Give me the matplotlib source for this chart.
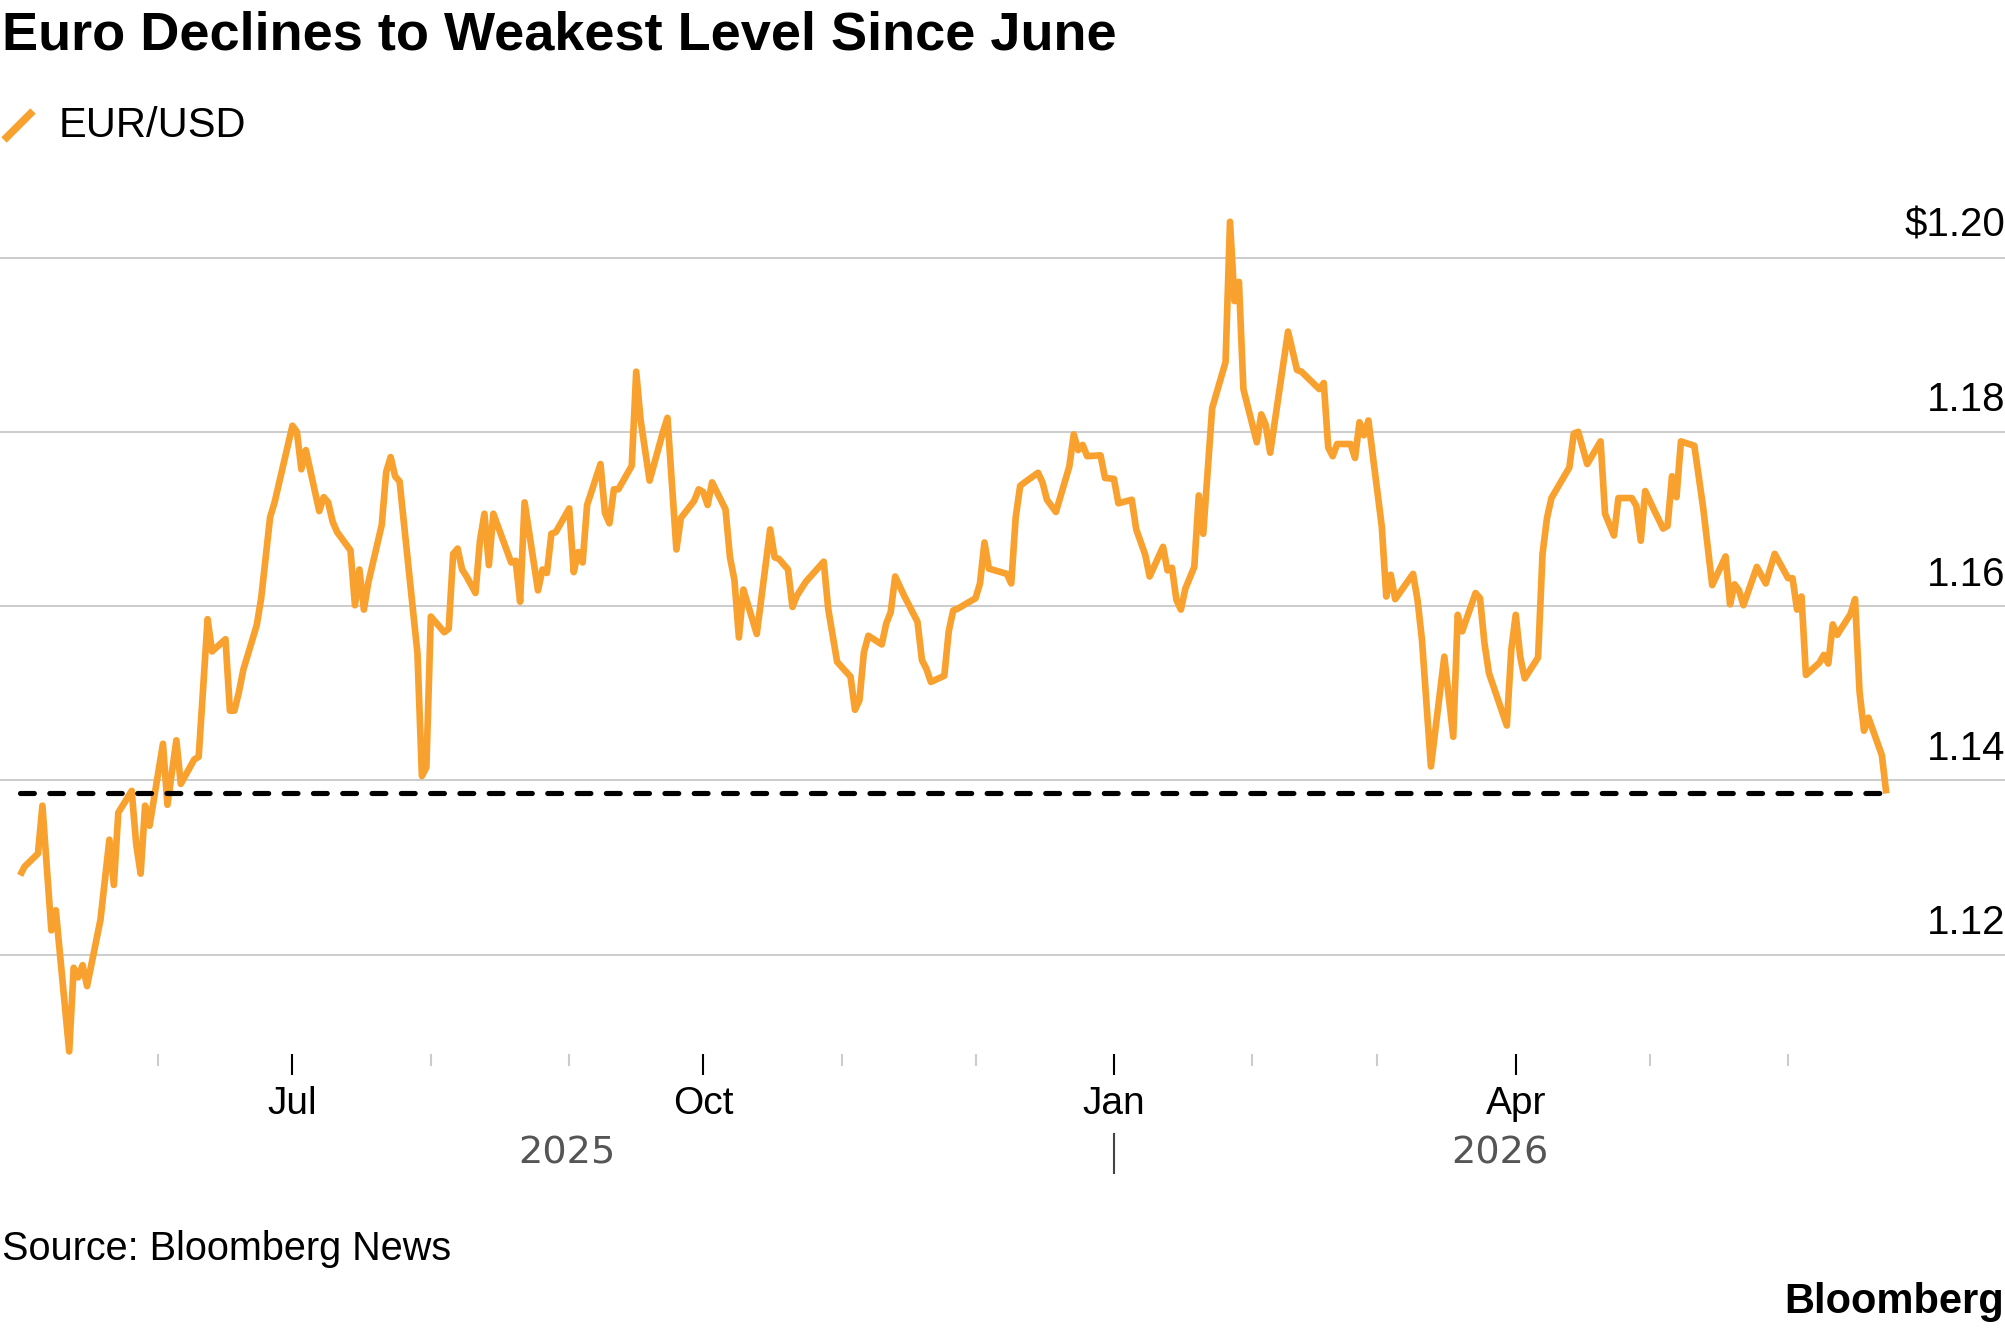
import matplotlib
matplotlib.use('Agg')
import matplotlib.pyplot as plt
import matplotlib.dates as mdates
import matplotlib.transforms as mtransforms
import pandas as pd

plt.rcParams['font.family'] = ['Liberation Sans', 'DejaVu Sans']

# EUR/USD
dates = [
    '2025-05-01', '2025-05-02', '2025-05-05', '2025-05-06', '2025-05-08', '2025-05-09', '2025-05-12',
    '2025-05-13', '2025-05-14', '2025-05-15', '2025-05-16', '2025-05-19', '2025-05-21', '2025-05-22',
    '2025-05-23', '2025-05-26', '2025-05-27', '2025-05-28', '2025-05-29', '2025-05-30', '2025-06-02',
    '2025-06-03', '2025-06-05', '2025-06-06', '2025-06-09', '2025-06-10', '2025-06-12', '2025-06-13',
    '2025-06-16', '2025-06-17', '2025-06-18', '2025-06-19', '2025-06-20', '2025-06-23', '2025-06-24',
    '2025-06-26', '2025-06-27', '2025-07-01', '2025-07-02', '2025-07-03', '2025-07-04', '2025-07-07',
    '2025-07-08', '2025-07-09', '2025-07-10', '2025-07-11', '2025-07-14', '2025-07-15', '2025-07-16',
    '2025-07-17', '2025-07-18', '2025-07-21', '2025-07-22', '2025-07-23', '2025-07-24', '2025-07-25',
    '2025-07-29', '2025-07-30', '2025-07-31', '2025-08-01', '2025-08-04', '2025-08-05', '2025-08-06',
    '2025-08-07', '2025-08-08', '2025-08-09', '2025-08-11', '2025-08-12', '2025-08-13', '2025-08-14',
    '2025-08-15', '2025-08-19', '2025-08-20', '2025-08-21', '2025-08-22', '2025-08-25', '2025-08-26',
    '2025-08-27', '2025-08-28', '2025-08-29', '2025-09-01', '2025-09-02', '2025-09-03', '2025-09-04',
    '2025-09-05', '2025-09-08', '2025-09-09', '2025-09-10', '2025-09-11', '2025-09-12', '2025-09-15',
    '2025-09-16', '2025-09-17', '2025-09-19', '2025-09-22', '2025-09-23', '2025-09-25', '2025-09-26',
    '2025-09-29', '2025-09-30', '2025-10-01', '2025-10-02', '2025-10-03', '2025-10-06', '2025-10-07',
    '2025-10-08', '2025-10-09', '2025-10-10', '2025-10-13', '2025-10-16', '2025-10-17', '2025-10-18',
    '2025-10-20', '2025-10-21', '2025-10-22', '2025-10-24', '2025-10-28', '2025-10-29', '2025-10-31',
    '2025-11-03', '2025-11-04', '2025-11-05', '2025-11-06', '2025-11-07', '2025-11-10', '2025-11-11',
    '2025-11-12', '2025-11-13', '2025-11-15', '2025-11-18', '2025-11-19', '2025-11-20', '2025-11-21',
    '2025-11-24', '2025-11-25', '2025-11-26', '2025-11-27', '2025-12-01', '2025-12-02', '2025-12-03',
    '2025-12-04', '2025-12-08', '2025-12-09', '2025-12-10', '2025-12-11', '2025-12-12', '2025-12-15',
    '2025-12-16', '2025-12-17', '2025-12-19', '2025-12-22', '2025-12-23', '2025-12-24', '2025-12-25',
    '2025-12-26', '2025-12-29', '2025-12-30', '2026-01-01', '2026-01-02', '2026-01-05', '2026-01-06',
    '2026-01-08', '2026-01-09', '2026-01-12', '2026-01-13', '2026-01-14', '2026-01-15', '2026-01-16',
    '2026-01-17', '2026-01-19', '2026-01-20', '2026-01-21', '2026-01-22', '2026-01-23', '2026-01-26',
    '2026-01-27', '2026-01-28', '2026-01-29', '2026-01-30', '2026-02-02', '2026-02-03', '2026-02-04',
    '2026-02-05', '2026-02-09', '2026-02-11', '2026-02-12', '2026-02-16', '2026-02-17', '2026-02-18',
    '2026-02-19', '2026-02-20', '2026-02-23', '2026-02-24', '2026-02-25', '2026-02-26', '2026-02-27',
    '2026-03-02', '2026-03-03', '2026-03-04', '2026-03-05', '2026-03-09', '2026-03-10', '2026-03-11',
    '2026-03-13', '2026-03-16', '2026-03-18', '2026-03-19', '2026-03-20', '2026-03-23', '2026-03-24',
    '2026-03-25', '2026-03-26', '2026-03-30', '2026-03-31', '2026-04-01', '2026-04-02', '2026-04-03',
    '2026-04-06', '2026-04-07', '2026-04-08', '2026-04-09', '2026-04-13', '2026-04-14', '2026-04-15',
    '2026-04-17', '2026-04-20', '2026-04-21', '2026-04-23', '2026-04-24', '2026-04-27', '2026-04-28',
    '2026-04-29', '2026-04-30', '2026-05-02', '2026-05-04', '2026-05-05', '2026-05-06', '2026-05-07',
    '2026-05-08', '2026-05-11', '2026-05-13', '2026-05-15', '2026-05-18', '2026-05-19', '2026-05-20',
    '2026-05-21', '2026-05-22', '2026-05-25', '2026-05-27', '2026-05-29', '2026-06-01', '2026-06-02',
    '2026-06-03', '2026-06-04', '2026-06-05', '2026-06-08', '2026-06-09', '2026-06-10', '2026-06-11',
    '2026-06-12', '2026-06-15', '2026-06-16', '2026-06-17', '2026-06-18', '2026-06-19', '2026-06-22',
    '2026-06-23',
]
eurusd = [
    1.1291, 1.1301, 1.1316, 1.1371, 1.1228, 1.1251, 1.1089,
    1.1185, 1.1174, 1.1188, 1.1164, 1.1240, 1.1332, 1.1280,
    1.1363, 1.1388, 1.1327, 1.1293, 1.1371, 1.1348, 1.1442,
    1.1372, 1.1446, 1.1396, 1.1424, 1.1427, 1.1585, 1.1548,
    1.1562, 1.1480, 1.1480, 1.1501, 1.1527, 1.1578, 1.1609,
    1.1702, 1.1719, 1.1807, 1.1800, 1.1757, 1.1779, 1.1709,
    1.1725, 1.1719, 1.1697, 1.1685, 1.1664, 1.1601, 1.1642,
    1.1596, 1.1627, 1.1693, 1.1754, 1.1771, 1.1749, 1.1743,
    1.1546, 1.1405, 1.1415, 1.1588, 1.1570, 1.1574, 1.1660,
    1.1666, 1.1642, 1.1634, 1.1615, 1.1675, 1.1706, 1.1647,
    1.1706, 1.1650, 1.1652, 1.1605, 1.1719, 1.1618, 1.1642,
    1.1638, 1.1683, 1.1685, 1.1712, 1.1639, 1.1662, 1.1650,
    1.1716, 1.1763, 1.1707, 1.1695, 1.1734, 1.1734, 1.1761,
    1.1869, 1.1813, 1.1744, 1.1800, 1.1816, 1.1665, 1.1701,
    1.1721, 1.1734, 1.1731, 1.1716, 1.1742, 1.1711, 1.1656,
    1.1630, 1.1564, 1.1619, 1.1568, 1.1688, 1.1656, 1.1654,
    1.1642, 1.1599, 1.1612, 1.1628, 1.1651, 1.1597, 1.1536,
    1.1519, 1.1481, 1.1492, 1.1547, 1.1566, 1.1556, 1.1580,
    1.1593, 1.1634, 1.1612, 1.1582, 1.1538, 1.1528, 1.1513,
    1.1520, 1.1571, 1.1595, 1.1597, 1.1609, 1.1626, 1.1673,
    1.1643, 1.1637, 1.1626, 1.1702, 1.1738, 1.1742, 1.1753,
    1.1742, 1.1722, 1.1708, 1.1760, 1.1797, 1.1779, 1.1785,
    1.1772, 1.1773, 1.1747, 1.1746, 1.1718, 1.1722, 1.1688,
    1.1659, 1.1634, 1.1668, 1.1641, 1.1644, 1.1607, 1.1596,
    1.1620, 1.1645, 1.1727, 1.1683, 1.1755, 1.1827, 1.1880,
    1.2041, 1.1950, 1.1972, 1.1849, 1.1788, 1.1820, 1.1808,
    1.1776, 1.1915, 1.1871, 1.1869, 1.1849, 1.1856, 1.1782,
    1.1772, 1.1786, 1.1786, 1.1770, 1.1811, 1.1796, 1.1813,
    1.1691, 1.1611, 1.1636, 1.1608, 1.1637, 1.1607, 1.1561,
    1.1416, 1.1542, 1.1450, 1.1590, 1.1571, 1.1615, 1.1609,
    1.1557, 1.1523, 1.1463, 1.1550, 1.1590, 1.1542, 1.1517,
    1.1541, 1.1660, 1.1701, 1.1724, 1.1759, 1.1798, 1.1800,
    1.1763, 1.1789, 1.1706, 1.1681, 1.1724, 1.1724, 1.1715,
    1.1675, 1.1732, 1.1710, 1.1689, 1.1692, 1.1749, 1.1725,
    1.1789, 1.1784, 1.1712, 1.1624, 1.1657, 1.1602, 1.1625,
    1.1618, 1.1601, 1.1645, 1.1626, 1.1660, 1.1632, 1.1632,
    1.1596, 1.1611, 1.1521, 1.1535, 1.1544, 1.1534, 1.1579,
    1.1567, 1.1591, 1.1608, 1.1502, 1.1457, 1.1472, 1.1429,
    1.1385,
]

y_ticks = [1.12, 1.14, 1.16, 1.18, 1.20]
y_labels = ['1.12', '1.14', '1.16', '1.18', r'\$1.20']
major_ticks = ['2025-07-01', '2025-10-01', '2026-01-01', '2026-04-01']
major_labels = ['Jul', 'Oct', 'Jan', 'Apr']
minor_ticks = ['2025-06-01', '2025-08-01', '2025-09-01', '2025-11-01', '2025-12-01',
               '2026-02-01', '2026-03-01', '2026-05-01', '2026-06-01']
years = ['2025', '2026']

ORANGE = '#F9A12E'
W, H = 2005, 1329


def fy(py):
    # pixel row -> figure fraction
    return 1 - py / H


x = pd.to_datetime(dates)

fig = plt.figure(figsize=(W / 100, H / 100), dpi=100)
ax = fig.add_axes([0, fy(1054), 1, (1054 - 200) / H])
ax.set_xlim(pd.Timestamp('2025-04-26 12:00'), pd.Timestamp('2026-07-19 14:00'))
ax.set_ylim(1.108606, 1.206598)
for s in ax.spines.values():
    s.set_visible(False)

for v, lab in zip(y_ticks, y_labels):
    ax.axhline(v, color='#c8c8c8', lw=1.3, zorder=1)
    ax.annotate(lab, xy=(1, v), xycoords=('axes fraction', 'data'), xytext=(0, 14.8),
                textcoords='offset points', ha='right', va='baseline', fontsize=29)

ax.plot(x, eurusd, color=ORANGE, lw=4.8, solid_joinstyle='round', solid_capstyle='butt',
        zorder=3, clip_on=False)
ax.plot([x[0], x[-1]], [eurusd[-1], eurusd[-1]], color='black', lw=3.7,
        ls=(0, (2.7, 3.0)), dash_capstyle='round', zorder=4)

ax.set_yticks([])
ax.set_xticks(pd.to_datetime(major_ticks))
ax.set_xticks(pd.to_datetime(minor_ticks), minor=True)
ax.tick_params(axis='x', which='major', length=15, width=1.5, color='black', labelbottom=False)
ax.tick_params(axis='x', which='minor', length=8.6, width=1.5, color='#cccccc', labelbottom=False)

trans = mtransforms.blended_transform_factory(ax.transData, fig.transFigure)
for t, lab in zip(major_ticks, major_labels):
    fig.text(mdates.date2num(pd.Timestamp(t)), fy(1114), lab, transform=trans,
             ha='center', va='baseline', fontsize=28)

jan = mdates.date2num(pd.Timestamp('2026-01-01'))
year_pos = [(mdates.date2num(x[0]) + jan) / 2, (jan + mdates.date2num(x[-1])) / 2]
for xp, yr in zip(year_pos, years):
    fig.text(xp, fy(1164), yr, transform=trans, ha='center', va='baseline',
             fontsize=27.5, color='#555555', family='DejaVu Sans')
fig.add_artist(plt.Line2D([jan, jan], [fy(1134), fy(1173)], transform=trans,
                          color='#444444', lw=1.5))

# title, legend, source
fig.text(0.001, fy(50), 'Euro Declines to Weakest Level Since June', fontsize=39,
         fontweight='bold', ha='left', va='baseline')
fig.add_artist(plt.Line2D([4 / W, 33 / W], [fy(140), fy(111)], color=ORANGE, lw=5.5,
                          solid_capstyle='butt'))
fig.text(59 / W, fy(137), 'EUR/USD', fontsize=30, ha='left', va='baseline')
fig.text(0.001, fy(1260), 'Source: Bloomberg News', fontsize=28.5, ha='left', va='baseline')
fig.text(0.9995, fy(1313), 'Bloomberg', fontsize=30, fontweight='bold', ha='right', va='baseline')

fig.savefig('out.png', dpi=100)
